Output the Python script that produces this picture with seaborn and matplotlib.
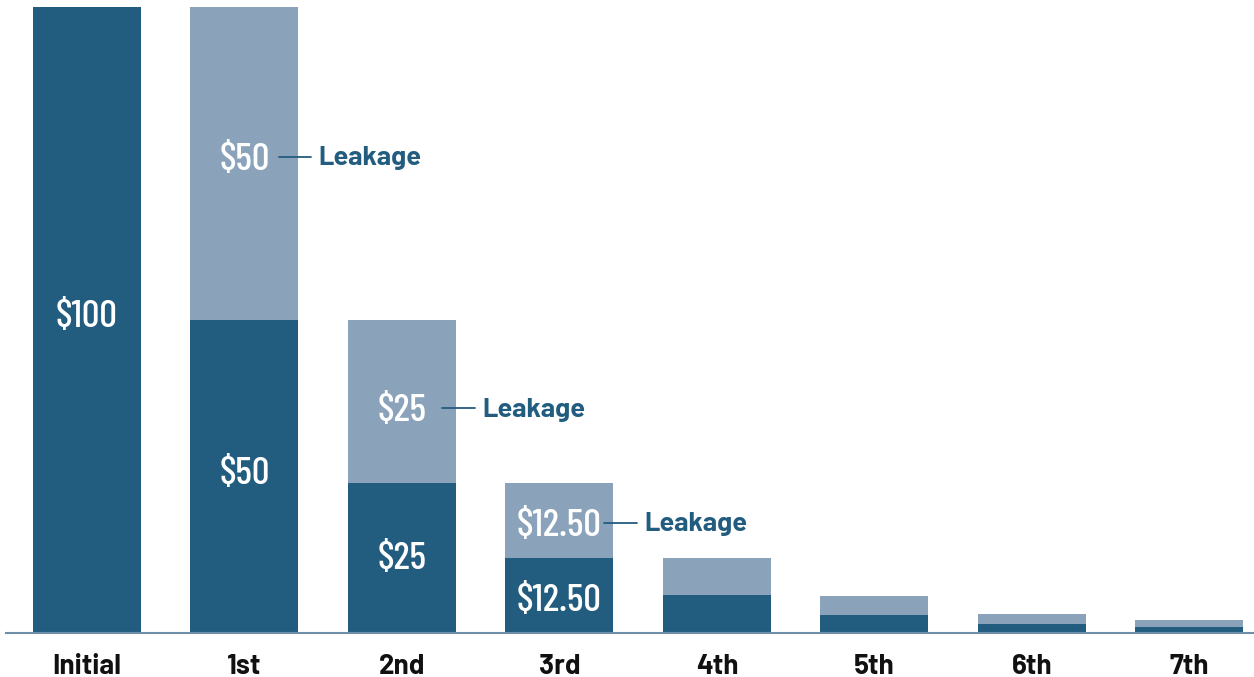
import pandas as pd
import seaborn as sns
import matplotlib.pyplot as plt
from matplotlib import font_manager

rounds = ['Initial', '1st', '2nd', '3rd', '4th', '5th', '6th', '7th']
spent = [100, 50, 24, 12, 6, 2.9, 1.5, 1.0]
leakage = [0, 50, 26, 12, 6, 3.0, 1.6, 1.0]
spent_labels = ['$100', '$50', '$25', '$12.50']
leak_labels = ['', '$50', '$25', '$12.50']

dark = '#225d80'
light = '#8aa3ba'


def pick_font(names):
    for n in names:
        try:
            font_manager.findfont(n, fallback_to_default=False)
            return n
        except ValueError:
            pass
    return 'DejaVu Sans'


narrow = pick_font(['Barlow Condensed', 'Asap Condensed', 'Archivo Narrow'])
bold = pick_font(['Barlow', 'Barlow Semi Condensed', 'Roboto'])

df = pd.DataFrame({'round': rounds, 'spent': spent, 'leakage': leakage})
df['total'] = df['spent'] + df['leakage']

sns.set_style('white')
fig = plt.figure(figsize=(12.54, 6.77), dpi=100)
ax = fig.add_axes([6 / 1254, 44 / 677, 1248 / 1254, 626 / 677])

# light part drawn as full height, dark part on top of it
sns.barplot(data=df, x='round', y='total', color=light, saturation=1, width=0.686,
            linewidth=0, ax=ax)
sns.barplot(data=df, x='round', y='spent', color=dark, saturation=1, width=0.686,
            linewidth=0, ax=ax)

ax.set_xlim(-0.514, 7.41)
ax.set_ylim(0, 100)
ax.set_xlabel('')
ax.set_ylabel('')
ax.set_yticks([])
sns.despine(ax=ax, left=True)
ax.spines['bottom'].set_color('#6f8ea8')
ax.spines['bottom'].set_linewidth(1.5)
ax.tick_params(axis='x', length=0, pad=15)
for t in ax.get_xticklabels():
    t.set_fontfamily(bold)
    t.set_fontweight('bold')
    t.set_fontsize(20)
    t.set_color('#111111')

# small hand nudges of the labels, as placed in the original
spent_nudge = [1.0, 0.9, 0.3, -0.4]
leak_nudge = [0, 1.0, -1.1, -0.4]
callout = [None, (0.219, 0.422, 0.467), (0.254, 0.463, 0.508), (0.283, 0.492, 0.537)]
drop = 0.5  # the $ sign lifts the box centre above the digits

for i, lab in enumerate(spent_labels):
    ax.text(i, spent[i] / 2 + spent_nudge[i] - drop, lab, ha='center', va='center',
            color='white', fontsize=28, family=narrow, fontweight='medium')
for i, lab in enumerate(leak_labels):
    if not lab:
        continue
    y = spent[i] + leakage[i] / 2 + leak_nudge[i]
    ax.text(i, y - drop, lab, ha='center', va='center', color='white', fontsize=28,
            family=narrow, fontweight='medium')
    x0, x1, xt = callout[i]
    ax.plot([i + x0, i + x1], [y, y], color=dark, lw=1.3)
    ax.text(i + xt, y - 0.2, 'Leakage', ha='left', va='center', color=dark,
            fontsize=19.5, fontweight='bold', family=bold)

fig.savefig('out.png', dpi=100)
